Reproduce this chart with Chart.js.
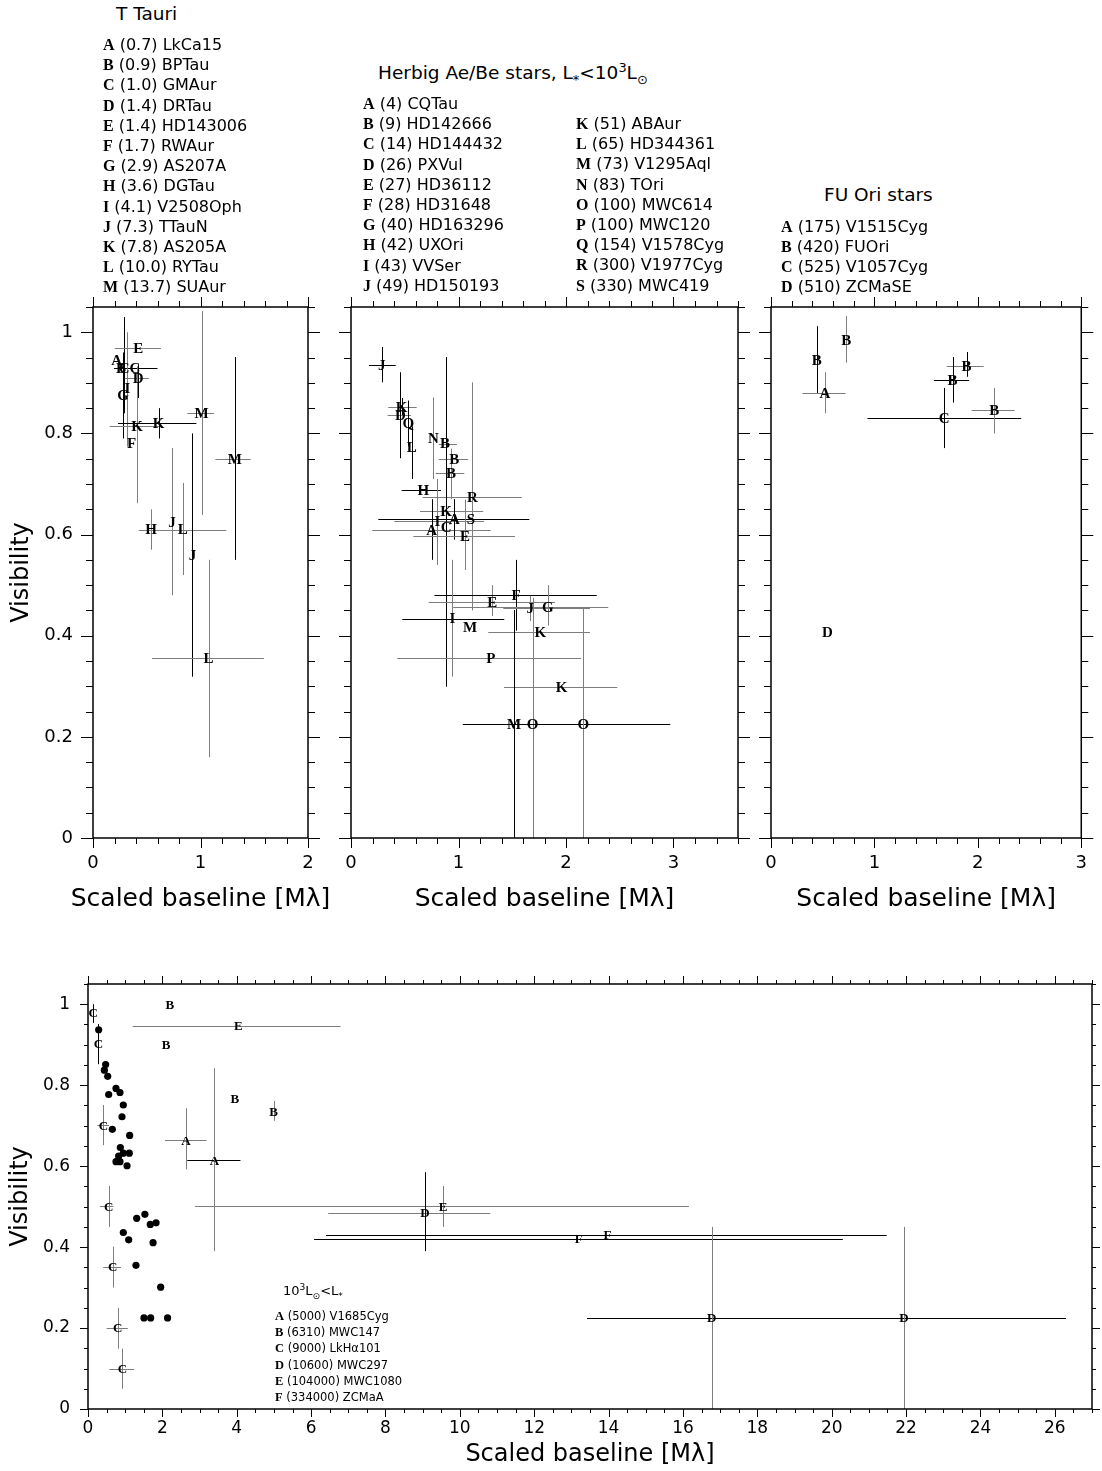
<!DOCTYPE html>
<html><head><meta charset="utf-8">
<script src="https://cdn.jsdelivr.net/npm/chart.js@4.4.1/dist/chart.umd.min.js"></script>
<style>
html,body{margin:0;padding:0;background:#fff;}
body{width:1102px;height:1471px;position:relative;overflow:hidden;font-family:'DejaVu Sans',sans-serif;color:#000;}
canvas{position:absolute;}
.leg{position:absolute;white-space:nowrap;font-size:16px;line-height:20.2px;}
.leg b{font-family:'Liberation Serif',serif;font-weight:bold;font-size:16px;}
.leg.small{font-size:11.5px;line-height:16.2px;}
.leg.small b{font-size:12.5px;}
.ttl{position:absolute;white-space:nowrap;font-size:18.5px;line-height:20px;}
.ttl.small{font-size:13px;}
sub,sup{font-size:70%;line-height:0;}
</style></head><body>
<canvas id="c1" width="345" height="670" style="left:0;top:270px"></canvas>
<canvas id="c2" width="420" height="670" style="left:330px;top:270px"></canvas>
<canvas id="c3" width="352" height="670" style="left:750px;top:270px"></canvas>
<canvas id="c4" width="1102" height="521" style="left:0;top:950px"></canvas>

<div class="ttl" style="left:116px;top:4px">T Tauri</div>
<div class="leg" id="legTT" style="left:103px;top:35px"></div>
<div class="ttl" style="left:378px;top:63px">Herbig Ae/Be stars, L<sub>*</sub>&lt;10<sup>3</sup>L<sub>⊙</sub></div>
<div class="leg" id="legHA1" style="left:363px;top:94px"></div>
<div class="leg" id="legHA2" style="left:576px;top:114px"></div>
<div class="ttl" style="left:824px;top:185px">FU Ori stars</div>
<div class="leg" id="legFU" style="left:781px;top:216.5px"></div>
<div class="ttl small" style="left:283px;top:1281px">10<sup>3</sup>L<sub>⊙</sub>&lt;L<sub>*</sub></div>
<div class="leg small" id="legHI" style="left:275px;top:1308px"></div>

<script>
// ---------- legend data ----------
const ttLetters = ['A','B','C','D','E','F','G','H','I','J','K','L','M'];
const ttLum = ['0.7','0.9','1.0','1.4','1.4','1.7','2.9','3.6','4.1','7.3','7.8','10.0','13.7'];
const ttNames = ['LkCa15','BPTau','GMAur','DRTau','HD143006','RWAur','AS207A','DGTau','V2508Oph','TTauN','AS205A','RYTau','SUAur'];

const haLetters = ['A','B','C','D','E','F','G','H','I','J','K','L','M','N','O','P','Q','R','S'];
const haLum = ['4','9','14','26','27','28','40','42','43','49','51','65','73','83','100','100','154','300','330'];
const haNames = ['CQTau','HD142666','HD144432','PXVul','HD36112','HD31648','HD163296','UXOri','VVSer','HD150193','ABAur','HD344361','V1295Aql','TOri','MWC614','MWC120','V1578Cyg','V1977Cyg','MWC419'];

const fuLetters = ['A','B','C','D'];
const fuLum = ['175','420','525','510'];
const fuNames = ['V1515Cyg','FUOri','V1057Cyg','ZCMaSE'];

const hiLetters = ['A','B','C','D','E','F'];
const hiLum = ['5000','6310','9000','10600','104000','334000'];
const hiNames = ['V1685Cyg','MWC147','LkHα101','MWC297','MWC1080','ZCMaA'];

// ---------- panel 1: T Tauri ----------
const p1Lab = ['A','B','C','C','D','E','G','I','K','K','F','M','M','H','J','L','J','L'];
const p1X   = [0.22,0.26,0.29,0.39,0.42,0.42,0.28,0.32,0.41,0.61,0.36,1.01,1.32,0.54,0.735,0.835,0.925,1.075];
const p1Y   = [0.945,0.93,0.93,0.93,0.91,0.968,0.875,0.89,0.815,0.82,0.78,0.84,0.75,0.61,0.625,0.61,0.56,0.355];
const p1XLo = [null,null,null,0.195,0.295,0.203,null,null,0.155,0.233,null,0.878,1.138,null,null,0.425,null,0.549];
const p1XHi = [null,null,null,0.60,0.52,0.631,null,null,0.62,0.962,null,1.126,1.467,null,null,1.24,null,1.59];
const p1YLo = [null,null,0.84,null,0.87,null,0.79,0.774,0.662,0.79,null,0.639,0.55,0.57,0.48,0.52,0.319,0.16];
const p1YHi = [null,null,1.03,null,0.935,null,0.96,1.0,0.933,0.85,null,1.042,0.951,0.65,0.771,0.702,0.80,0.55];
const p1XSet = [0,0,0,0,1,1,0,0,1,0,0,1,1,0,0,1,0,1];
const p1YSet = [0,0,0,0,0,0,0,1,1,0,0,1,0,1,1,1,0,1];

// ---------- panel 2: Herbig Ae/Be, L < 1e3 ----------
const p2Lab = ['J','K','D','Q','L','N','B','B','B','H','R','K','I','A','C','A','S','E','E','F','J','G','I','M','K','P','K','M','O','O'];
const p2X   = [0.285,0.47,0.46,0.533,0.565,0.766,0.874,0.961,0.93,0.673,1.13,0.884,0.804,0.75,0.885,0.961,1.116,1.06,1.315,1.535,1.668,1.83,0.943,1.107,1.761,1.3,1.96,1.516,1.69,2.161];
const p2Y   = [0.936,0.852,0.836,0.82,0.774,0.791,0.78,0.749,0.722,0.688,0.675,0.647,0.626,0.609,0.615,0.63,0.631,0.597,0.467,0.48,0.454,0.457,0.434,0.417,0.408,0.355,0.299,0.2245,0.2245,0.2245];
const p2XLo = [0.167,0.347,0.341,null,null,null,0.815,0.816,0.788,0.471,0.667,0.642,0.403,0.198,null,0.254,null,0.58,0.723,0.776,1.417,0.951,0.477,null,1.277,0.431,1.423,1.04,null,1.33];
const p2XHi = [0.416,0.611,0.558,null,null,null,0.985,1.09,1.054,0.837,1.588,1.23,1.237,1.30,null,1.659,null,1.526,1.898,2.286,2.223,2.393,1.426,null,2.223,2.14,2.477,1.99,null,2.97];
const p2YLo = [0.901,0.835,0.751,0.775,0.71,0.71,null,null,0.67,null,0.45,null,0.54,0.55,0.299,0.59,null,0.53,0.439,0.41,0.429,0.42,0.319,null,null,null,null,0,0,0];
const p2YHi = [0.971,0.87,0.921,0.865,0.814,0.871,null,null,0.77,null,0.901,null,0.71,0.67,0.951,0.67,null,0.669,0.5,0.55,0.479,0.5,0.55,null,null,null,null,0.451,0.475,0.454];
const p2XSet = [0,1,1,0,0,0,1,1,1,0,1,1,1,1,0,0,0,1,1,0,1,1,0,0,1,1,1,0,0,0];
const p2YSet = [0,0,0,0,0,1,0,0,1,0,1,0,1,0,0,0,0,1,1,0,1,1,1,0,0,0,0,0,1,1];

// ---------- panel 3: FU Ori ----------
const p3Lab = ['B','B','A','B','B','C','B','D'];
const p3X   = [0.443,0.728,0.521,1.891,1.755,1.674,2.158,0.545];
const p3Y   = [0.945,0.984,0.88,0.934,0.905,0.83,0.846,0.407];
const p3XLo = [null,null,0.303,1.699,1.575,0.933,1.94,null];
const p3XHi = [null,null,0.722,2.056,1.916,2.419,2.356,null];
const p3YLo = [0.88,0.94,0.84,0.912,0.861,0.771,0.8,null];
const p3YHi = [1.012,1.032,0.921,0.961,0.951,0.89,0.89,null];
const p3XSet = [0,0,1,1,0,0,1,0];
const p3YSet = [0,1,1,0,0,0,1,0];

// ---------- panel 4: L > 1e3 ----------
const p4Lab = ['C','C','B','E','B','C','B','B','A','A','C','E','D','F','F','D','D','C','C','C'];
const p4X   = [0.143,0.278,2.2,4.04,2.097,0.412,3.95,4.99,2.634,3.4,0.556,9.55,9.06,13.2,13.97,16.77,21.94,0.663,0.8,0.923];
const p4Y   = [0.978,0.902,1.0,0.946,0.9,0.701,0.766,0.735,0.664,0.614,0.501,0.501,0.485,0.421,0.431,0.225,0.225,0.351,0.2,0.1];
const p4XLo = [null,null,null,1.2,null,0.25,null,null,2.07,2.67,0.32,2.88,6.46,6.08,6.4,13.42,17.5,0.41,0.5,0.573];
const p4XHi = [null,null,null,6.79,null,0.565,null,null,3.19,4.1,0.68,16.16,10.82,20.3,21.48,20.1,26.3,0.89,1.07,1.24];
const p4YLo = [0.954,0.852,null,null,null,0.652,null,0.712,0.592,0.39,0.45,0.45,0.39,null,null,0,0,0.3,0.149,0.05];
const p4YHi = [1.0,0.951,null,null,null,0.751,null,0.761,0.743,0.842,0.551,0.551,0.585,null,null,0.45,0.45,0.401,0.25,0.149];
const p4XSet = [0,0,0,1,0,1,0,0,1,0,1,1,1,0,0,0,0,1,1,1];
const p4YSet = [0,0,0,0,0,1,0,1,1,1,1,1,0,0,0,1,1,1,1,1];
// lower-luminosity objects re-plotted as dots
const p4DotX = [0.287,0.475,0.44,0.53,0.556,0.753,0.86,0.95,0.914,0.654,1.12,0.87,0.753,0.86,0.824,0.95,1.11,1.05,1.31,1.53,0.95,1.094,1.675,1.83,1.75,1.29,1.954,1.505,1.685,2.14];
const p4DotY = [0.937,0.851,0.837,0.822,0.777,0.792,0.782,0.751,0.722,0.691,0.676,0.646,0.611,0.611,0.625,0.632,0.632,0.601,0.471,0.481,0.436,0.418,0.456,0.46,0.411,0.355,0.301,0.225,0.225,0.225];

// ---------- tick label values ----------
const topYTicks = [0,0.2,0.4,0.6,0.8,1];
const p1XTicks = [0,1,2];
const p2XTicks = [0,1,2,3];
const p3XTicks = [0,1,2,3];
const p4XTicks = [0,2,4,6,8,10,12,14,16,18,20,22,24,26];
const p4YTicks = [0,0.2,0.4,0.6,0.8,1];

// ---------- legends ----------
function fillLegend(id, letters, lum, names) {
  const el = document.getElementById(id);
  el.innerHTML = letters.map((l,i)=>'<div><b>'+l+'</b> ('+lum[i]+') '+names[i]+'</div>').join('');
}
fillLegend('legTT', ttLetters, ttLum, ttNames);
fillLegend('legHA1', haLetters.slice(0,10), haLum.slice(0,10), haNames.slice(0,10));
fillLegend('legHA2', haLetters.slice(10), haLum.slice(10), haNames.slice(10));
fillLegend('legFU', fuLetters, fuLum, fuNames);
fillLegend('legHI', hiLetters, hiLum, hiNames);

// ---------- plugins ----------
const BAR_COLORS = ['#000000','#7d7d7d'];
const frameTicks = {
  id:'frameTicks',
  afterDraw(chart, args, o) {
    const {ctx, chartArea:a} = chart;
    const xs = chart.scales.x, ys = chart.scales.y;
    ctx.save();
    ctx.strokeStyle = '#000';
    ctx.lineWidth = 1;
    ctx.beginPath();
    const nx = Math.round((xs.max - xs.min)/o.xMinor);
    for (let i=0;i<=nx;i++){
      const v = xs.min + i*o.xMinor;
      const px = Math.round(xs.getPixelForValue(v))+0.5;
      const major = Math.abs(v/o.xMajor - Math.round(v/o.xMajor))<1e-6;
      const L = major? o.xMajLen : o.xMinLen;
      ctx.moveTo(px, a.bottom); ctx.lineTo(px, a.bottom+L);
      ctx.moveTo(px, a.top); ctx.lineTo(px, a.top-L);
    }
    const ny = Math.round((ys.max - ys.min)/o.yMinor);
    for (let i=0;i<=ny;i++){
      const v = ys.min + i*o.yMinor;
      const py = Math.round(ys.getPixelForValue(v))+0.5;
      const major = Math.abs(v/o.yMajor - Math.round(v/o.yMajor))<1e-6;
      const L = major? o.yMajLen : o.yMinLen;
      ctx.moveTo(a.left, py); ctx.lineTo(a.left-L, py);
      ctx.moveTo(a.right, py); ctx.lineTo(a.right+L, py);
    }
    ctx.stroke();
    ctx.lineWidth = 1.5;
    ctx.strokeRect(a.left, a.top, a.right-a.left, a.bottom-a.top);
    // x-axis title (drawn without width squeezing)
    ctx.fillStyle = '#000';
    ctx.font = o.xTitleSize + "px 'DejaVu Sans', sans-serif";
    ctx.textAlign = 'center';
    ctx.textBaseline = 'middle';
    ctx.fillText(o.xTitle, (a.left+a.right)/2, a.bottom + o.xTitleOffset);
    ctx.restore();
  }
};
const errLetters = {
  id:'errLetters',
  afterDatasetsDraw(chart, args, o) {
    const {ctx} = chart;
    const xs = chart.scales.x, ys = chart.scales.y;
    const d = chart.data.datasets[0];
    ctx.save();
    ctx.lineWidth = 1;
    d.data.forEach((p,i)=>{
      const cx = xs.getPixelForValue(p.x), cy = ys.getPixelForValue(p.y);
      if (d.xLo[i]!==null) {
        ctx.strokeStyle = BAR_COLORS[d.xSet[i]];
        const yy = Math.round(cy)+0.5;
        ctx.beginPath();
        ctx.moveTo(xs.getPixelForValue(d.xLo[i]), yy);
        ctx.lineTo(xs.getPixelForValue(d.xHi[i]), yy);
        ctx.stroke();
      }
      if (d.yLo[i]!==null) {
        ctx.strokeStyle = BAR_COLORS[d.ySet[i]];
        const xx = Math.round(cx)+0.5;
        ctx.beginPath();
        ctx.moveTo(xx, ys.getPixelForValue(d.yLo[i]));
        ctx.lineTo(xx, ys.getPixelForValue(d.yHi[i]));
        ctx.stroke();
      }
    });
    ctx.fillStyle = '#000';
    ctx.font = 'bold '+o.size+'px "Liberation Serif", serif';
    ctx.textAlign = 'center';
    ctx.textBaseline = 'alphabetic';
    d.data.forEach((p,i)=>{
      const cx = xs.getPixelForValue(p.x), cy = ys.getPixelForValue(p.y);
      ctx.fillText(d.letters[i], cx, cy + o.size*0.33);
    });
    ctx.restore();
  }
};

Chart.defaults.font.family = "'DejaVu Sans', sans-serif";
Chart.defaults.color = '#000';

function fmt(v){ return (v===0||v===1) ? String(v) : v.toFixed(1); }

function makePanel(id, d, c) {
  const datasets = [{
    data: d.x.map((v,i)=>({x:v, y:d.y[i]})),
    pointRadius:0, pointHoverRadius:0, showLine:false,
    letters:d.lab, xLo:d.xLo, xHi:d.xHi, yLo:d.yLo, yHi:d.yHi, xSet:d.xSet, ySet:d.ySet
  }];
  if (d.dotX) datasets.push({
    data: d.dotX.map((v,i)=>({x:v, y:d.dotY[i]})),
    pointRadius:3.6, pointHoverRadius:3.6, backgroundColor:'#000', borderWidth:0, showLine:false
  });
  return new Chart(document.getElementById(id), {
    type:'scatter',
    data:{datasets},
    options:{
      responsive:false, animation:false, devicePixelRatio:1,
      events:[],
      layout:{padding:{top:c.padTop, right:c.padRight, left:0, bottom:0}},
      plugins:{
        legend:{display:false}, tooltip:{enabled:false},
        frameTicks:Object.assign({xTitle:'Scaled baseline [Mλ]', xTitleSize:c.xTitleSize, xTitleOffset:c.xTitleOffset}, c.ticks),
        errLetters:{size:c.letterSize}
      },
      scales:{
        x:{
          type:'linear', position:'bottom', min:0, max:c.xMax,
          afterBuildTicks:(s)=>{ s.ticks = c.xTicks.map(v=>({value:v})); },
          afterFit:(s)=>{ s.height = c.xH; },
          grid:{display:false, drawTicks:false},
          border:{display:false},
          ticks:{font:{size:c.tickSize}, padding:c.xPad, maxRotation:0, autoSkip:false, callback:(v)=>String(v)},
          title:{display:false}
        },
        y:{
          type:'linear', position:'left', min:0, max:1.05,
          afterBuildTicks:(s)=>{ s.ticks = c.yTicks.map(v=>({value:v})); },
          afterFit:(s)=>{ s.width = c.yW; },
          grid:{display:false, drawTicks:false},
          border:{display:false},
          ticks:{display:c.yLabels, font:{size:c.tickSize}, padding:c.yPad, callback:(v)=>fmt(v)},
          title:{display:c.yLabels, text:'Visibility', font:{size:24}, padding:{top:c.yTitlePad, bottom:0}}
        }
      }
    },
    plugins:[frameTicks, errLetters]
  });
}

const topTicks = ()=>({xMinor:0.2, xMajor:1, xMajLen:10, xMinLen:6, yMinor:0.05, yMajor:0.2, yMajLen:12, yMinLen:7});

makePanel('c1',
  {lab:p1Lab,x:p1X,y:p1Y,xLo:p1XLo,xHi:p1XHi,yLo:p1YLo,yHi:p1YHi,xSet:p1XSet,ySet:p1YSet},
  {padTop:37, padRight:37, xMax:2, xTicks:p1XTicks, yTicks:topYTicks, xH:102, yW:93, tickSize:18, xPad:15,
   xTitleSize:25, xTitleOffset:61, yLabels:true, yPad:20, yTitlePad:7, letterSize:15, ticks:topTicks()});
makePanel('c2',
  {lab:p2Lab,x:p2X,y:p2Y,xLo:p2XLo,xHi:p2XHi,yLo:p2YLo,yHi:p2YHi,xSet:p2XSet,ySet:p2YSet},
  {padTop:37, padRight:12, xMax:3.6, xTicks:p2XTicks, yTicks:topYTicks, xH:102, yW:21, tickSize:18, xPad:15,
   xTitleSize:25, xTitleOffset:61, yLabels:false, yPad:20, yTitlePad:7, letterSize:15, ticks:topTicks()});
makePanel('c3',
  {lab:p3Lab,x:p3X,y:p3Y,xLo:p3XLo,xHi:p3XHi,yLo:p3YLo,yHi:p3YHi,xSet:p3XSet,ySet:p3YSet},
  {padTop:37, padRight:10, xMax:3, xTicks:p3XTicks, yTicks:topYTicks, xH:102, yW:21, tickSize:18, xPad:15,
   xTitleSize:25, xTitleOffset:61, yLabels:false, yPad:20, yTitlePad:7, letterSize:15, ticks:topTicks()});
makePanel('c4',
  {lab:p4Lab,x:p4X,y:p4Y,xLo:p4XLo,xHi:p4XHi,yLo:p4YLo,yHi:p4YHi,xSet:p4XSet,ySet:p4YSet,dotX:p4DotX,dotY:p4DotY},
  {padTop:34, padRight:10, xMax:27, xTicks:p4XTicks, yTicks:p4YTicks, xH:62, yW:88, tickSize:17, xPad:9,
   xTitleSize:24, xTitleOffset:46, yLabels:true, yPad:18, yTitlePad:6, letterSize:13,
   ticks:{xMinor:0.5, xMajor:2, xMajLen:8, xMinLen:4, yMinor:0.05, yMajor:0.2, yMajLen:8, yMinLen:4}});
</script>
</body></html>
